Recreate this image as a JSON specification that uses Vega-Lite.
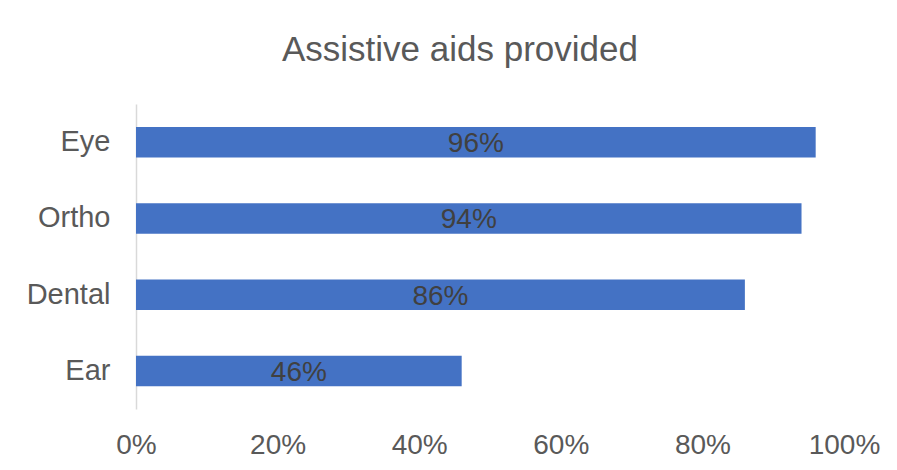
{
  "$schema": "https://vega.github.io/schema/vega-lite/v6.json",
  "autosize": {"type": "none"},
  "padding": {"left": 136, "top": 104, "right": 53, "bottom": 61},
  "width": 708,
  "height": 305,
  "background": "white",
  "title": {
    "text": "Assistive aids provided",
    "font": "Liberation Sans",
    "fontSize": 35,
    "fontWeight": "normal",
    "color": "#595959",
    "anchor": "middle",
    "baseline": "alphabetic",
    "offset": 8,
    "dx": -30
  },
  "data": {
    "values": [
      {"aid": "Eye", "share": 0.96},
      {"aid": "Ortho", "share": 0.94},
      {"aid": "Dental", "share": 0.86},
      {"aid": "Ear", "share": 0.46}
    ]
  },
  "encoding": {
    "y": {
      "field": "aid",
      "type": "nominal",
      "sort": ["Eye", "Ortho", "Dental", "Ear"],
      "scale": {"paddingInner": 0.6, "paddingOuter": 0.3},
      "axis": {
        "title": null,
        "ticks": false,
        "tickSize": 0,
        "labelPadding": 26,
        "labelFont": "Liberation Sans",
        "labelFontSize": 29,
        "labelColor": "#595959",
        "domainColor": "#d9d9d9",
        "domainWidth": 1.5,
        "grid": false
      }
    }
  },
  "layer": [
    {
      "mark": {"type": "bar", "color": "#4472C4"},
      "encoding": {
        "x": {
          "field": "share",
          "type": "quantitative",
          "scale": {"domain": [0, 1]},
          "axis": {
            "title": null,
            "format": ".0%",
            "values": [0, 0.2, 0.4, 0.6, 0.8, 1],
            "ticks": false,
            "tickSize": 0,
            "domain": false,
            "grid": false,
            "labelBaseline": "alphabetic",
            "labelPadding": 44,
            "labelFont": "Liberation Sans",
            "labelFontSize": 28,
            "labelColor": "#595959",
            "labelFlush": false
          }
        }
      }
    },
    {
      "mark": {
        "type": "text",
        "font": "Liberation Sans",
        "fontSize": 28,
        "color": "#404040",
        "baseline": "alphabetic",
        "align": "center",
        "dy": 10
      },
      "encoding": {
        "x": {
          "field": "share",
          "type": "quantitative",
          "scale": {"domain": [0, 2]},
          "axis": null
        },
        "text": {"field": "share", "type": "quantitative", "format": ".0%"}
      }
    }
  ],
  "resolve": {"scale": {"x": "independent"}, "axis": {"x": "independent"}},
  "config": {"view": {"stroke": null}}
}
